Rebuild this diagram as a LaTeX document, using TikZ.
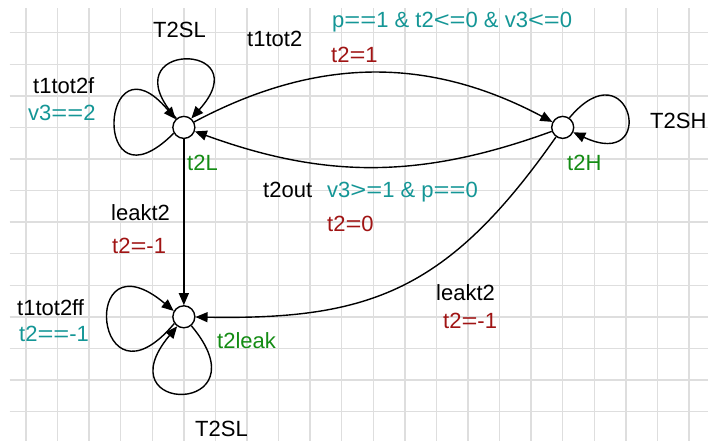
\documentclass[tikz,border=0pt]{standalone}
\usepackage{graphicx}
\usepackage{fontspec}
\setmainfont{Liberation Sans}
\usetikzlibrary{arrows.meta}
\definecolor{gridgray}{RGB}{222,222,222}
\definecolor{guardc}{RGB}{20,150,150}
\definecolor{assignc}{RGB}{160,20,20}
\definecolor{namec}{RGB}{20,140,20}
% relational operators set with a wider glyph
\newcommand\opeq{\scalebox{1.24}[1]{=}}
\newcommand\oplt{\scalebox{1.24}[1]{<}}
\newcommand\opgt{\scalebox{1.24}[1]{>}}

\begin{document}
\begin{tikzpicture}[x=1pt,y=1pt,
  loc/.style={circle, draw=black, fill=white, line width=1.4pt, minimum size=22pt, inner sep=0pt},
  trans/.style={draw=black, line width=1.4pt, -{Triangle[length=12pt,width=10pt]}},
  lbl/.style={font=\fontsize{22}{26}\selectfont, inner sep=0pt, anchor=base west},
  sync/.style={lbl, text=black},
  guard/.style={lbl, text=guardc},
  assign/.style={lbl, text=assignc},
  lname/.style={lbl, text=namec}]

% canvas
\fill[white] (0,0) rectangle (708,-441);
\useasboundingbox (0,0) rectangle (708,-441);

% background grid
\foreach \k in {0,...,21}
  \draw[gridgray, line width=1.5pt] ({26+31.57*\k},-8.5) -- ({26+31.57*\k},-441);
\foreach \j in {0,...,12}
  \draw[gridgray, line width=1.5pt] (9.5,{-32.7-31.57*\j}) -- (708,{-32.7-31.57*\j});

% locations
\node[loc] (L) at (183.85,-127.4) {};
\node[loc] (H) at (562.7,-127.4) {};
\node[loc] (K) at (183.85,-316.8) {};

% transitions between locations
\draw[trans] (L) to[bend left=28] (H);
\draw[trans] (H) to[bend left=20] (L);
\draw[trans] (L) -- (K);
\draw[trans] (H) .. controls (448,-291) and (370,-320) .. (K);

% self loops
\draw[trans] (L.130) .. controls +(132:105) and +(48:105) .. (L.50);
\draw[trans] (L.210) .. controls +(225:118) and +(130:118) .. (L.135);
\draw[trans] (H.55) .. controls +(50:95) and +(-25:95) .. (H.-25);
\draw[trans] (K.215) .. controls +(230:125) and +(140:125) .. (K.150);
\draw[trans] (K.-50) .. controls +(-50:117) and +(-130:117) .. (K.-125);

% location names
\node[lname] (nL) at (187,-170.7) {t2L};
\node[lname] (nH) at (567,-170) {t2H};
\node[lname] (nK) at (217,-348.3) {t2leak};

% labels of the loops
\node[sync] (s1) at (153,-37.3) {T2SL};
\node[sync] (s2) at (33,-94) {t1tot2f};
\node[guard] (g2) at (28,-120.7) {v3\opeq\opeq2};
\node[sync] (s3) at (650,-128.3) {T2SH};
\node[sync] (s4) at (17,-315) {t1tot2ff};
\node[guard] (g4) at (19,-341.7) {t2\opeq\opeq-1};
\node[sync] (s5) at (195,-436.7) {T2SL};

% labels of the transitions
\node[sync] (s6) at (247,-46.5) {t1tot2};
\node[guard] (g6) at (332,-28) {p\opeq\opeq1 \& t2\oplt\opeq0 \& v3\oplt\opeq0};
\node[assign] (a6) at (331,-63) {t2\opeq1};
\node[sync] (s7) at (263,-197.3) {t2out};
\node[guard] (g7) at (327,-197.3) {v3\opgt\opeq1 \& p\opeq\opeq0};
\node[assign] (a7) at (327,-231.7) {t2\opeq0};
\node[sync] (s8) at (111,-220) {leakt2};
\node[assign] (a8) at (112,-253.3) {t2\opeq-1};
\node[sync] (s9) at (436,-300) {leakt2};
\node[assign] (a9) at (443,-328.3) {t2\opeq-1};
\end{tikzpicture}
\end{document}
